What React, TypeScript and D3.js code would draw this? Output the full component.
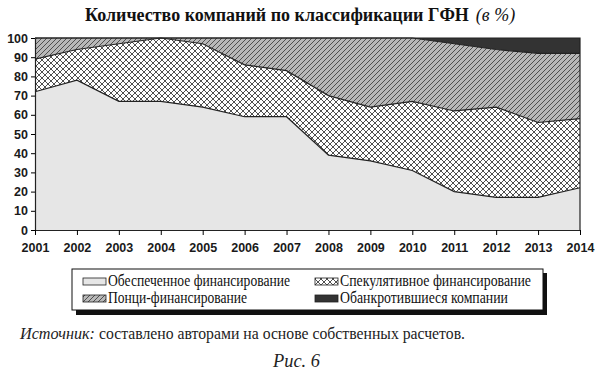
import { useRef, useEffect } from 'react'
import * as d3 from 'd3'

const years = [2001, 2002, 2003, 2004, 2005, 2006, 2007, 2008, 2009, 2010, 2011, 2012, 2013, 2014]
const hedge = [72, 78, 67, 67, 64, 59, 59, 39, 36, 31, 20, 17, 17, 22]
const speculative = [17, 16, 30, 33, 33, 27, 24, 31, 28, 36, 42, 47, 39, 36]
const ponzi = [11, 6, 3, 0, 3, 14, 17, 30, 36, 33, 35, 30, 36, 34]
const bankrupt = [0, 0, 0, 0, 0, 0, 0, 0, 0, 0, 3, 6, 8, 8]
const yTicks = [0, 10, 20, 30, 40, 50, 60, 70, 80, 90, 100]
const seriesKeys = ['hedge', 'speculative', 'ponzi', 'bankrupt']
const seriesNames = [
  'Обеспеченное финансирование',
  'Спекулятивное финансирование',
  'Понци-финансирование',
  'Обанкротившиеся компании',
]

const W = 595
const H = 372
const serif = "'Liberation Serif', 'Times New Roman', serif"
const sans = "'Liberation Sans', Arial, sans-serif"

export default function App() {
  const svgRef = useRef<SVGSVGElement>(null)

  useEffect(() => {
    if (!svgRef.current) return
    const svg = d3.select(svgRef.current)
    svg.selectAll('*').remove()

    const defs = svg.append('defs')
    // crosshatch for speculative
    const cross = defs.append('pattern')
      .attr('id', 'cross').attr('patternUnits', 'userSpaceOnUse')
      .attr('width', 6).attr('height', 6)
    cross.append('rect').attr('width', 6).attr('height', 6).attr('fill', '#fff')
    cross.append('path').attr('d', 'M0,0L6,6M6,0L0,6M-1,5L1,7M5,-1L7,1M-1,1L1,-1M5,7L7,5')
      .attr('stroke', '#222').attr('stroke-width', 0.8)
    // diagonal for ponzi
    const diag = defs.append('pattern')
      .attr('id', 'diag').attr('patternUnits', 'userSpaceOnUse')
      .attr('width', 5).attr('height', 5)
    diag.append('rect').attr('width', 5).attr('height', 5).attr('fill', '#b8b8b8')
    diag.append('path').attr('d', 'M0,5L5,0M-1,1L1,-1M4,6L6,4')
      .attr('stroke', '#333').attr('stroke-width', 0.8)

    const fills = ['#e6e6e6', 'url(#cross)', 'url(#diag)', '#333']

    const margin = { left: 35, right: 15, top: 38, bottom: 142 }
    const x = d3.scaleLinear().domain([2001, 2014]).range([margin.left, W - margin.right])
    const y = d3.scaleLinear().domain([0, 100]).range([H - margin.bottom, margin.top])

    const rows = years.map((yr, i) => ({
      year: yr, hedge: hedge[i], speculative: speculative[i], ponzi: ponzi[i], bankrupt: bankrupt[i],
    }))
    const stacked = d3.stack<any>().keys(seriesKeys)(rows)

    const area = d3.area<any>()
      .x(d => x(d.data.year))
      .y0(d => y(d[0]))
      .y1(d => y(d[1]))

    const line = d3.line<any>()
      .x(d => x(d.data.year))
      .y(d => y(d[1]))

    const g = svg.append('g')
    stacked.forEach((s, i) => {
      g.append('path').attr('d', area(s) as string).attr('fill', fills[i])
    })
    stacked.slice(0, 3).forEach(s => {
      g.append('path').attr('d', line(s) as string)
        .attr('fill', 'none').attr('stroke', '#222').attr('stroke-width', 1.2)
    })

    // frame top and right
    g.append('path')
      .attr('d', `M${x(2001)},${y(100)}H${x(2014)}V${y(0)}`)
      .attr('fill', 'none').attr('stroke', '#222').attr('stroke-width', 1.2)

    const yAxis = d3.axisLeft(y).tickValues(yTicks).tickSize(4).tickSizeOuter(0)
    const ya = svg.append('g').attr('transform', `translate(${x(2001)},0)`).call(yAxis)
    ya.select('.domain').attr('stroke', '#222').attr('stroke-width', 1.2)
    ya.selectAll('text').attr('font-family', sans).attr('font-size', 12.5).attr('font-weight', 'bold')
      .attr('fill', '#1a1a1a').attr('x', -7)

    const xAxis = d3.axisBottom(x).tickValues(years).tickFormat(d3.format('d')).tickSize(5).tickSizeOuter(0)
    const xa = svg.append('g').attr('transform', `translate(0,${y(0)})`).call(xAxis)
    xa.select('.domain').attr('stroke', '#222').attr('stroke-width', 1.2)
    xa.selectAll('text').attr('font-family', sans).attr('font-size', 12.5).attr('font-weight', 'bold')
      .attr('fill', '#1a1a1a').attr('dy', '1.15em')

    // title: one text element, bold part then italic unit
    const title = svg.append('text').attr('x', 85).attr('y', 21)
      .attr('font-family', serif).attr('font-size', 18).attr('fill', '#111')
    title.append('tspan').attr('font-weight', 'bold')
      .text('Количество компаний по классификации ГФН')
    title.append('tspan').attr('font-style', 'italic').attr('dx', 7).text('(в %)')

    // legend
    const lg = svg.append('g')
    lg.append('rect').attr('x', 76).attr('y', 273).attr('width', 471).attr('height', 42).attr('fill', '#111')
    lg.append('rect').attr('x', 72).attr('y', 269).attr('width', 471).attr('height', 41)
      .attr('fill', '#fff').attr('stroke', '#111').attr('stroke-width', 1)
    const pos = [[83, 281], [315, 281], [83, 298], [315, 298]]
    const widths = [182, 191, 139, 168]
    seriesNames.forEach((name, i) => {
      const [lx, ly] = pos[i]
      lg.append('rect').attr('x', lx).attr('y', ly - 3).attr('width', 23).attr('height', 7)
        .attr('fill', fills[i]).attr('stroke', '#222').attr('stroke-width', 0.8)
      lg.append('text').attr('x', lx + 25).attr('y', ly + 5).attr('font-family', serif)
        .attr('font-size', 16).attr('fill', '#111')
        .attr('textLength', widths[i]).attr('lengthAdjust', 'spacingAndGlyphs').text(name)
    })

    // source
    svg.append('text').attr('x', 20).attr('y', 339).attr('font-family', serif)
      .attr('font-size', 16).attr('font-style', 'italic').attr('fill', '#222')
      .attr('textLength', 75).attr('lengthAdjust', 'spacingAndGlyphs').text('Источник:')
    svg.append('text').attr('x', 99).attr('y', 339).attr('font-family', serif)
      .attr('font-size', 16).attr('fill', '#222')
      .attr('textLength', 366).attr('lengthAdjust', 'spacingAndGlyphs')
      .text('составлено авторами на основе собственных расчетов.')

    svg.append('text').attr('x', 273).attr('y', 367)
      .attr('font-family', serif).attr('font-style', 'italic').attr('font-size', 19).attr('fill', '#222')
      .attr('textLength', 47).attr('lengthAdjust', 'spacingAndGlyphs')
      .text('Рис. 6')
  }, [])

  return (
    <div style={{ position: 'absolute', left: 0, top: 0 }}>
      <svg ref={svgRef} width={W} height={H} style={{ display: 'block', background: '#fff' }} />
    </div>
  )
}
